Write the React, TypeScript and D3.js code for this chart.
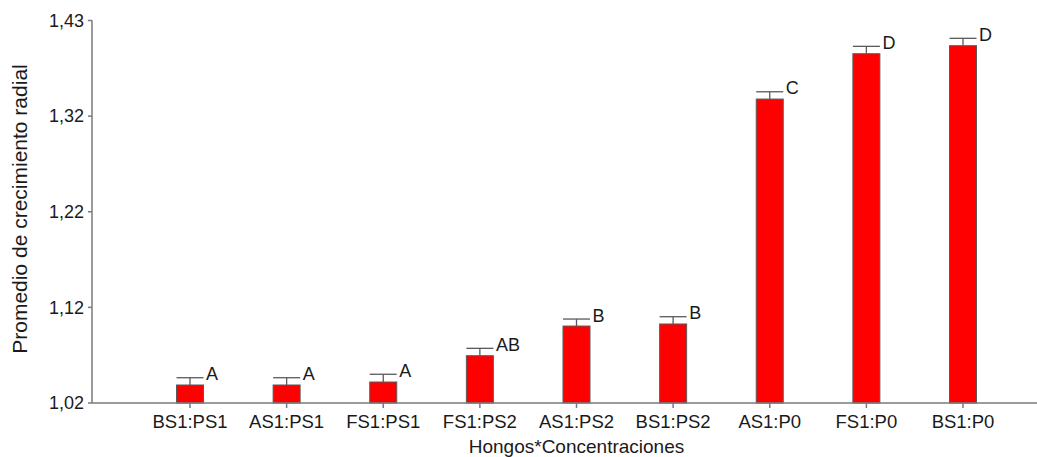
import React from "react";
import * as d3 from "d3";

const categories = ["BS1:PS1", "AS1:PS1", "FS1:PS1", "FS1:PS2", "AS1:PS2", "BS1:PS2", "AS1:P0", "FS1:P0", "BS1:P0"];
const means = [1.0393, 1.0393, 1.0425, 1.0707, 1.1025, 1.1047, 1.3458, 1.3944, 1.403];
const errors = [0.0078, 0.0078, 0.0083, 0.0079, 0.0075, 0.0078, 0.0078, 0.0079, 0.0079];
const groups = ["A", "A", "A", "AB", "B", "B", "C", "D", "D"];
const yTickLabels = ["1,02", "1,12", "1,22", "1,32", "1,43"];
const yMin = 1.02;
const yMax = 1.43;

const W = 1037;
const H = 457;
const axisX = 92;
const axisY = 403;
const FONT = "'Liberation Sans', Arial, sans-serif";

export default function App() {
  const y = d3.scaleLinear().domain([yMin, yMax]).range([axisY, 20.5]);
  const x = d3.scalePoint<string>().domain(categories).range([190, 963]);
  const barW = 27;
  const tickVals = yTickLabels.map((_, i) => yMin + (i * (yMax - yMin)) / (yTickLabels.length - 1));
  const axisColor = "#7a7a7a";
  const textColor = "#1a1a1a";

  return (
    <svg width={W} height={H} style={{ position: "absolute", left: 0, top: 0, background: "#fff" }}>
      {/* bars */}
      {categories.map((c, i) => {
        const cx = x(c)!;
        const top = y(means[i]);
        const capY = y(means[i] + errors[i]);
        return (
          <g key={c}>
            <rect x={cx - barW / 2} y={top} width={barW} height={axisY - top} fill="#ff0000" stroke="#5a5a5a" strokeWidth={1} />
            <line x1={cx} x2={cx} y1={top} y2={capY} stroke="#5a5a5a" strokeWidth={1.3} />
            <line x1={cx - barW / 2} x2={cx + barW / 2} y1={capY} y2={capY} stroke="#5a5a5a" strokeWidth={1.3} />
            <text x={cx + barW / 2 + 2.5} y={capY + 2.5} fontFamily={FONT} fontSize={18} fill={textColor}>
              {groups[i]}
            </text>
          </g>
        );
      })}
      {/* y axis */}
      <line x1={axisX} x2={axisX} y1={y(yMax)} y2={axisY} stroke={axisColor} strokeWidth={1.5} />
      {tickVals.map((v, i) => (
        <g key={i}>
          <line x1={axisX - 4} x2={axisX} y1={y(v)} y2={y(v)} stroke={axisColor} strokeWidth={1.5} />
          <text x={axisX - 8} y={y(v)} dy="0.35em" textAnchor="end" fontFamily={FONT} fontSize={18} fill={textColor}>
            {yTickLabels[i]}
          </text>
        </g>
      ))}
      {/* x axis */}
      <line x1={axisX} x2={W} y1={axisY} y2={axisY} stroke={axisColor} strokeWidth={1.5} />
      {categories.map((c) => (
        <g key={c}>
          <line x1={x(c)!} x2={x(c)!} y1={axisY} y2={axisY + 5} stroke={axisColor} strokeWidth={1.5} />
          <text x={x(c)!} y={427.5} textAnchor="middle" fontFamily={FONT} fontSize={18.5} fill={textColor}>
            {c}
          </text>
        </g>
      ))}
      <text x={576.5} y={453.3} textAnchor="middle" fontFamily={FONT} fontSize={19} fill={textColor}>
        Hongos*Concentraciones
      </text>
      <text transform={`translate(27,209) rotate(-90)`} textAnchor="middle" fontFamily={FONT} fontSize={21} fill={textColor}>
        Promedio de crecimiento radial
      </text>
    </svg>
  );
}
